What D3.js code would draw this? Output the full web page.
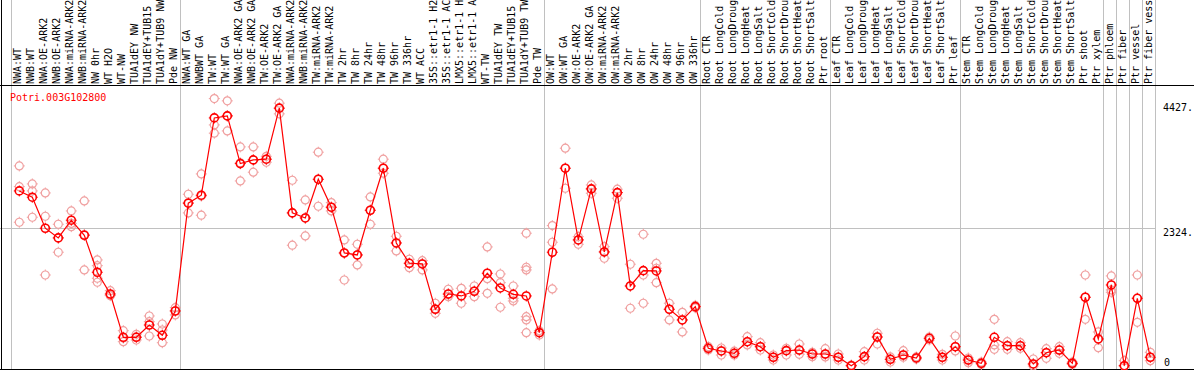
<!DOCTYPE html>
<html>
<head>
<meta charset="utf-8">
<script src="https://cdn.jsdelivr.net/npm/d3@7"></script>
<style>
  body { margin: 0; background: #fff; }
  svg { display: block; }
  text { font-family: "DejaVu Sans Mono", monospace; font-size: 10px; }
</style>
</head>
<body>
<div id="chart"></div>
<script>
const geneName = 'Potri.003G102800';

const samples = [
    'NWA:WT', 'NWB:WT', 'NWA:OE-ARK2', 'NWB:OE-ARK2', 'NWA:miRNA-ARK2', 'NWB:miRNA-ARK2', 'NW 0hr', 'WT H2O', 'WT-NW',
    'TUA1dEY NW', 'TUA1dEY+TUB15 NW', 'TUA1dY+TUB9 NW', 'Pde NW',
    'NWA:WT GA', 'NWBWT GA', 'TW:WT', 'TW:WT GA', 'NWA:OE-ARK2 GA', 'NWB:OE-ARK2 GA', 'TW:OE-ARK2', 'TW:OE-ARK2 GA',
    'NWA:miRNA-ARK2 GA', 'NWB:miRNA-ARK2 GA', 'TW:miRNA-ARK2', 'TW:miRNA-ARK2 GA', 'TW 2hr', 'TW 8hr', 'TW 24hr', 'TW 48hr',
    'TW 96hr', 'TW 336hr', 'WT ACC', '35S::etr1-1 H2O', '35S::etr1-1 ACC', 'LMX5::etr1-1 H2O', 'LMX5::etr1-1 ACC', 'WT-TW',
    'TUA1dEY TW', 'TUA1dEY+TUB15 TW', 'TUA1dY+TUB9 TW', 'Pde TW',
    'OW:WT', 'OW:WT GA', 'OW:OE-ARK2', 'OW:OE-ARK2 GA', 'OW:miRNA-ARK2', 'OW:miRNA-ARK2 GA', 'OW 2hr', 'OW 8hr', 'OW 24hr',
    'OW 48hr', 'OW 96hr', 'OW 336hr',
    'Root CTR', 'Root LongCold', 'Root LongDrought', 'Root LongHeat', 'Root LongSalt', 'Root ShortCold', 'Root ShortDrought',
    'Root ShortHeat', 'Root ShortSalt', 'Ptr root',
    'Leaf CTR', 'Leaf LongCold', 'Leaf LongDrought', 'Leaf LongHeat', 'Leaf LongSalt', 'Leaf ShortCold', 'Leaf ShortDrought',
    'Leaf ShortHeat', 'Leaf ShortSalt', 'Ptr leaf',
    'Stem CTR', 'Stem LongCold', 'Stem LongDrought', 'Stem LongHeat', 'Stem LongSalt', 'Stem ShortCold', 'Stem ShortDrought',
    'Stem ShortHeat', 'Stem ShortSalt', 'Ptr shoot', 'Ptr xylem',
    'Ptr phloem', 'Ptr fiber', 'Ptr vessel', 'Ptr fiber vessel'
];

// number of samples in each block between the grey separators
const groupSizes = [13, 28, 12, 10, 10, 11, 1, 1, 1, 1];

// mean expression per sample (red line)
const means = [
    2947, 2841, 2319, 2156, 2454, 2201, 1578, 1212, 483, 483, 690, 517, 926,
    2740, 2875, 4176, 4210, 3407, 3469, 3481, 4340, 2577, 2492, 3144, 2673, 1903, 1869, 2622, 3329,
    2071, 1729, 1718, 955, 1212, 1179, 1258, 1561, 1314, 1207, 1179, 561,
    1915, 3329, 2122, 2981, 1920, 2918, 1347, 1605, 1600, 955, 775, 999,
    298, 253, 214, 409, 325, 147, 258, 269, 202, 202,
    147, 5, 157, 488, 113, 185, 135, 466, 147, 325,
    101, 45, 483, 342, 342, 34, 224, 269, 45, 1157, 455,
    1364, 5, 1140, 147
];

// individual replicates per sample (pink circles)
const replicates = [
    [3368, 3019, 2420], [3065, 2947, 2504], [2913, 2521, 1532], [2386, 1915, 2156], [2610, 2346, 2400],
    [2779, 1617, 2210], [1785, 1689, 1477, 1410], [1268, 1184, 1190], [594, 409, 470], [534, 490, 438],
    [842, 746, 505], [707, 606, 392], [982, 859, 930],
    [2891, 2577, 2750], [3233, 2538, 2860], [4501, 4058, 3919], [4463, 4210, 3957], [3688, 3420, 3115],
    [3688, 3470, 3262], [3530, 3480, 3430], [4424, 4340, 4244], [3127, 2577, 2033], [2795, 2490, 2189],
    [3599, 3140, 2689], [2750, 2670, 2610], [2122, 1900, 1448], [2049, 1870, 1701], [2846, 2620, 2386],
    [3481, 3330, 3245], [2184, 2070, 1937], [1797, 1730, 1655], [1773, 1720, 1617], [1056, 960, 887],
    [1292, 1210, 1167], [1308, 1180, 1056], [1347, 1260, 1167], [2004, 1470, 1224], [1549, 1403, 989],
    [1347, 1140, 1095], [2235, 1662, 1617, 830, 775, 561], [594, 522, 561],
    [2363, 2083, 1297], [3666, 3329, 2992], [2177, 2049, 2122], [3048, 2908, 2981], [2009, 1814, 1920],
    [2976, 2824, 2918], [1713, 972, 1347], [2218, 1532, 1056], [1729, 1645, 1403], [1056, 775, 955],
    [904, 573, 775], [1020, 980, 999],
    [325, 270, 298], [185, 303, 253], [185, 250, 214], [493, 354, 409], [392, 269, 325], [185, 101, 147],
    [298, 185, 258], [370, 197, 269], [231, 157, 202], [291, 152, 202],
    [202, 101, 147], [17, 0, 5], [241, 101, 157], [551, 370, 488], [152, 67, 113], [258, 147, 185],
    [152, 118, 135], [488, 438, 466], [197, 101, 147], [505, 253, 325],
    [56, 135, 101], [67, 25, 45], [786, 354, 281], [409, 281, 342], [392, 298, 342], [118, 0, 34],
    [291, 130, 224], [325, 214, 269], [67, 25, 45], [1532, 786, 1157], [573, 308, 455],
    [1516, 1280, 1241], [89, 0, 5], [1532, 736, 1140], [231, 89, 147]
];

const yTicks = [0, 2324, 4427];
const yTickLabels = ['0', '2324.', '4427.'];

const width = 1194, height = 370;
const plotLeft = 11, plotRight = 1155;
const headerBottom = 85;
const labelChars = 14; // header only has room for this many characters
const colorMean = '#ff0000';
const colorRep = '#f0a0a0';
const colorGrid = '#c0c0c0';

const svg = d3.select('#chart').append('svg')
    .attr('width', width)
    .attr('height', height);

const x = d3.scaleBand()
    .domain(samples)
    .range([plotLeft, plotRight]);

const y = d3.scaleLinear()
    .domain([0, 4427])
    .range([366, 103]);

const px = d => Math.round(x(d)) + 8.3;

// separators between sample blocks
let boundaries = [0];
groupSizes.forEach(n => boundaries.push(boundaries[boundaries.length - 1] + n));
svg.selectAll('line.sep')
    .data(boundaries)
    .enter()
    .append('line')
    .attr('class', 'sep')
    .attr('x1', i => (i < samples.length ? Math.round(x(samples[i])) : plotRight) + 0.5)
    .attr('x2', i => (i < samples.length ? Math.round(x(samples[i])) : plotRight) + 0.5)
    .attr('y1', 0)
    .attr('y2', height)
    .attr('stroke', colorGrid);

// middle gridline
svg.append('line')
    .attr('x1', 0)
    .attr('x2', plotRight)
    .attr('y1', Math.round(y(yTicks[1])) + 0.5)
    .attr('y2', Math.round(y(yTicks[1])) + 0.5)
    .attr('stroke', colorGrid);

// frame
svg.append('line').attr('x1', 0).attr('x2', width).attr('y1', headerBottom + 0.5).attr('y2', headerBottom + 0.5).attr('stroke', 'black');
svg.append('line').attr('x1', 0).attr('x2', width).attr('y1', height - 0.5).attr('y2', height - 0.5).attr('stroke', 'black');
svg.append('line').attr('x1', 1.5).attr('x2', 1.5).attr('y1', 0).attr('y2', height).attr('stroke', 'black');

// sample labels, shortened like the original header does
svg.append('g')
    .selectAll('text')
    .data(samples)
    .enter()
    .append('text')
    .attr('transform', d => `translate(${Math.round(x(d)) + 6}, ${headerBottom - 1}) rotate(-90)`)
    .attr('dy', '0.35em')
    .attr('fill', 'black')
    .text(d => d.slice(0, labelChars));

// gene name
svg.append('text')
    .attr('x', 10)
    .attr('y', 101)
    .attr('fill', colorMean)
    .text(geneName);

// y labels
svg.selectAll('text.ytick')
    .data(yTicks)
    .enter()
    .append('text')
    .attr('class', 'ytick')
    .attr('x', (d, i) => i === 0 ? 1164 : 1163)
    .attr('y', d => Math.min(y(d) + 8, 366))
    .attr('fill', 'black')
    .text((d, i) => yTickLabels[i]);

function marker(sel, r, color, sw) {
    sel.append('circle')
        .attr('r', r)
        .attr('fill', 'none')
        .attr('stroke', color)
        .attr('stroke-width', sw);
    sel.append('path')
        .attr('d', `M0,${-r - 1.5}V${-r}M0,${r}V${r + 1.5}M${-r - 1.5},0H${-r}M${r},0H${r + 1.5}`)
        .attr('stroke', color)
        .attr('stroke-width', 1);
}

// replicates
const repData = [];
replicates.forEach((reps, i) => reps.forEach(v => repData.push({s: samples[i], v: v})));
svg.append('g')
    .selectAll('g')
    .data(repData)
    .enter()
    .append('g')
    .attr('transform', d => `translate(${px(d.s)}, ${y(d.v)})`)
    .call(marker, 4, colorRep, 1.2);

// mean line
const line = d3.line()
    .x((d, i) => px(samples[i]))
    .y(d => y(d));
svg.append('path')
    .datum(means)
    .attr('d', line)
    .attr('fill', 'none')
    .attr('stroke', colorMean)
    .attr('stroke-width', 1.2);

svg.append('g')
    .selectAll('g')
    .data(means)
    .enter()
    .append('g')
    .attr('transform', (d, i) => `translate(${px(samples[i])}, ${y(d)})`)
    .call(marker, 4, colorMean, 1.6);
</script>
</body>
</html>
